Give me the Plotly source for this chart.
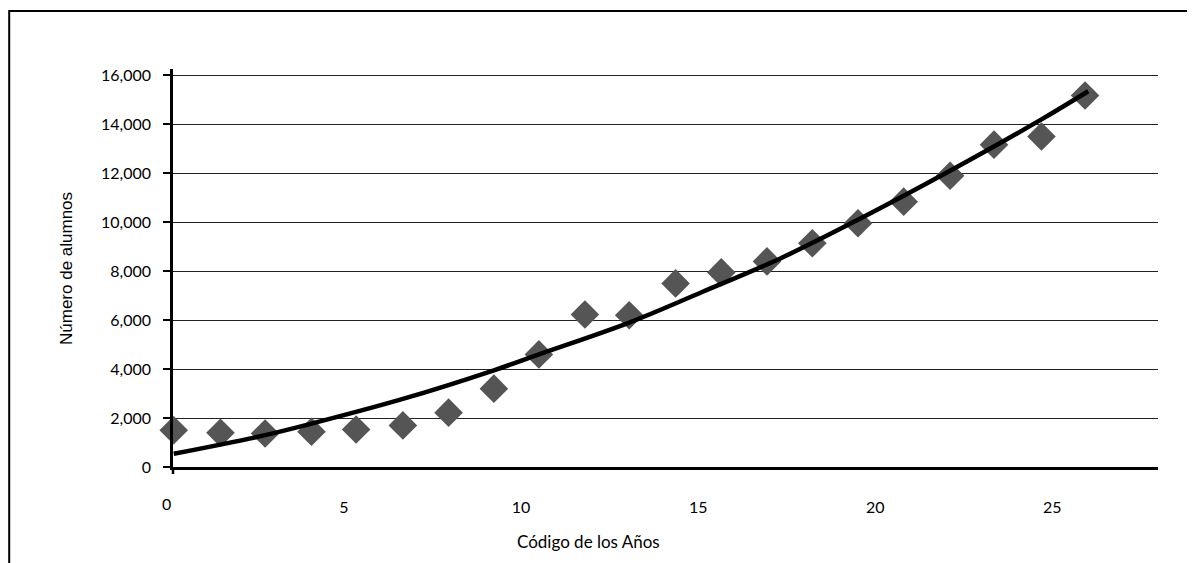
import plotly.graph_objects as go

# Data
codigo_anios = [0.08, 1.40, 2.66, 3.97, 5.23, 6.55, 7.84, 9.12, 10.39, 11.69, 12.94,
                14.25, 15.54, 16.83, 18.11, 19.40, 20.69, 22.00, 23.24, 24.58, 25.81]
numero_alumnos = [1500, 1400, 1370, 1440, 1530, 1700, 2220, 3200, 4600, 6230, 6200,
                  7500, 7950, 8400, 9140, 9960, 10840, 11900, 13170, 13500, 15180]

# Trend line
trend_x = [0.08, 2.66, 3.97, 6.55, 9.12, 10.39, 12.94, 15.0, 17.25, 19.40, 22.0, 24.58, 25.9]
trend_y = [540, 1300, 1770, 2780, 3950, 4600, 5900, 7150, 8550, 10100, 12100, 14200, 15350]

x_ticks = [5, 10, 15, 20, 25]
y_ticks = [0, 2000, 4000, 6000, 8000, 10000, 12000, 14000, 16000]

# page has an 8px body margin -> work in figure coordinates (page - 8)
OFF = 8
W, H = 1195 - OFF, 563 - OFF
L, R, T, B = 173 - OFF, 1158 - OFF, 69 - OFF, 467 - OFF
pw, ph = R - L, B - T


def px(xp):
    return (xp - OFF - L) / pw


def py(yp):
    return (B - (yp - OFF)) / ph


fig = go.Figure()
fig.add_trace(go.Scatter(
    x=codigo_anios, y=numero_alumnos, mode="markers",
    marker=dict(symbol="diamond", size=22, color="#555555", line=dict(width=0)),
    cliponaxis=False, showlegend=False,
))
fig.add_trace(go.Scatter(
    x=trend_x, y=trend_y, mode="lines",
    line=dict(color="black", width=4.5, shape="spline"),
    cliponaxis=False, showlegend=False,
))

fig.update_layout(
    width=W, height=H,
    margin=dict(l=L, r=W - R, t=T, b=H - B),
    paper_bgcolor="white", plot_bgcolor="white",
    xaxis=dict(
        range=[0.06, 27.87], showline=True, linecolor="black", linewidth=3,
        ticks="", showgrid=False, zeroline=False,
        tickvals=x_ticks, ticktext=[str(v) for v in x_ticks],
        tickfont=dict(family="Lato", size=16, color="black"),
        ticklabelstandoff=24, ticklabelshift=-4,
    ),
    yaxis=dict(
        range=[0, 16260], showline=True, linecolor="black", linewidth=2.5,
        ticks="outside", ticklen=7, tickwidth=1.5, tickcolor="black",
        tickvals=y_ticks, ticktext=[f"{v:,}" for v in y_ticks],
        showgrid=True, gridcolor="#222222", gridwidth=1.2, zeroline=False,
        tickfont=dict(family="Lato", size=16, color="black"),
        ticklabelstandoff=9,
    ),
    annotations=[
        dict(text="0", xref="paper", yref="paper", x=px(166), y=py(504),
             showarrow=False, xanchor="center", yanchor="middle",
             font=dict(family="Lato", size=16, color="black")),
        dict(text="Código de los Años", xref="paper", yref="paper",
             x=px(588), y=py(541), showarrow=False,
             xanchor="center", yanchor="middle",
             font=dict(family="Lato", size=17, color="black")),
        dict(text="Número de alumnos", xref="paper", yref="paper",
             x=px(66), y=py(269), showarrow=False, textangle=-90,
             xanchor="center", yanchor="middle",
             font=dict(family="Liberation Sans", size=17, color="black")),
    ],
    shapes=[
        dict(type="rect", xref="paper", yref="paper",
             x0=px(OFF + 1.2), x1=1.3, y0=-0.5, y1=py(11),
             line=dict(color="black", width=2), fillcolor="rgba(0,0,0,0)", layer="below"),
        dict(type="line", xref="paper", yref="paper", x0=0, x1=0, y0=0, y1=-7 / ph,
             line=dict(color="black", width=2.5)),
    ],
)

fig.write_html("out.html")
